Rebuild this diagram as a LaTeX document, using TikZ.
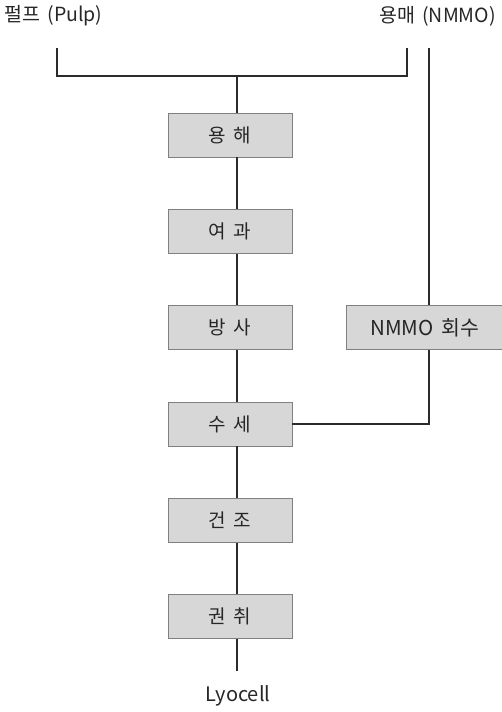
\documentclass[tikz,border=0pt]{standalone}
\usepackage{fontspec}
\setmainfont[WordSpace=1.7]{Noto Sans CJK KR}
\usetikzlibrary{positioning}
\definecolor{boxfill}{HTML}{D7D7D7}
\definecolor{boxedge}{HTML}{808080}
\definecolor{flowline}{HTML}{2B2B2B}
\tikzstyle{process}=[draw=boxedge,fill=boxfill,line width=0.8pt,minimum width=124pt,minimum height=44pt,inner sep=0pt,font=\fontsize{19}{22}\selectfont,text=black!85]
\tikzstyle{feed}=[inner sep=0pt,font=\fontsize{19.5}{22}\selectfont,text=black!85]
\tikzstyle{flow}=[draw=flowline,line width=1.8pt]

\begin{document}
\begin{tikzpicture}[x=1pt,y=-1pt]
  \useasboundingbox (0,0) rectangle (502,712);
  % inputs
  \node[feed,anchor=west] (pulp) at (4,16) {펄프 (Pulp)};
  \node[feed,anchor=east] (solvent) at (496,16) {용매 (NMMO)};
  \coordinate (pulpend) at (57.3,48.3);
  \coordinate (solvend) at (406.7,48.3);
  \coordinate (nmmoend) at (429.3,48.3);
  \coordinate (join) at (237.3,75.7);
  % process steps
  \node[process] (dissolve) at (230,135) {용\hspace{0.4em}해};
  \node[process,below=51.5pt of dissolve] (filter) {여\hspace{0.4em}과};
  \node[process,below=51.5pt of filter] (spin) {방\hspace{0.4em}사};
  \node[process,below=51.5pt of spin] (wash) {수\hspace{0.4em}세};
  \node[process,below=51.5pt of wash] (dry) {건\hspace{0.4em}조};
  \node[process,below=51.5pt of dry] (wind) {권\hspace{0.4em}취};
  \node[process,minimum width=156pt,right=54pt of spin,font=\fontsize{20.5}{24}\selectfont] (recover) {NMMO 회수};
  \node[feed,font=\fontsize{20}{24}\selectfont] (lyocell) at (238,696) {Lyocell};
  \coordinate (lyoend) at (237.3,671);
  % connectors
  \draw[flow] (pulpend) |- (join) -| (solvend);
  \draw[flow] (join) -- (dissolve.north -| join);
  \foreach \a/\b in {dissolve/filter,filter/spin,spin/wash,wash/dry,dry/wind}
    \draw[flow] (\a.south -| join) -- (\b.north -| join);
  \draw[flow] (wind.south -| join) -- (lyoend);
  \draw[flow] (nmmoend) -- (recover.north -| nmmoend);
  \draw[flow] (recover.south -| nmmoend) |- (wash.east);
\end{tikzpicture}
\end{document}
